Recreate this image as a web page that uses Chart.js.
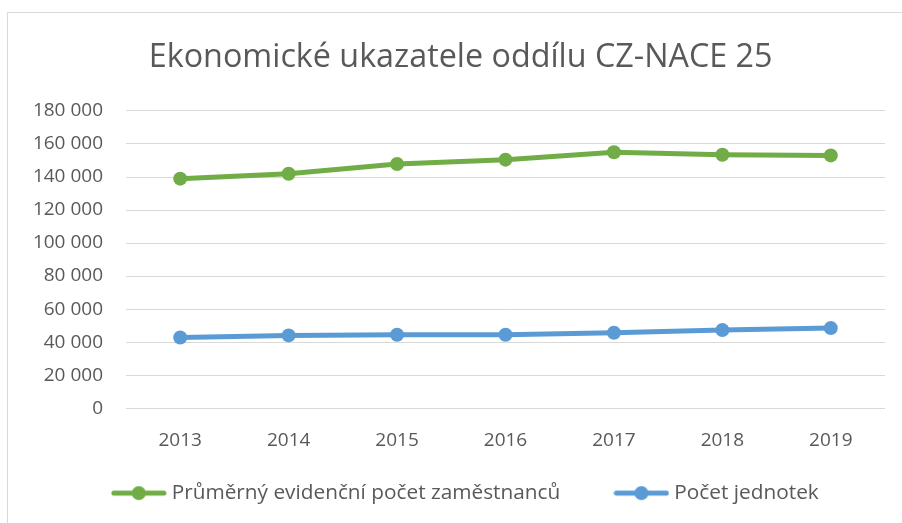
<!DOCTYPE html>
<html><head><meta charset="utf-8">
<script src="https://cdn.jsdelivr.net/npm/chart.js@4"></script>
<style>html,body{margin:0;padding:0;background:#fff;}#wrap{width:902px;height:523px;position:relative;}</style>
</head><body><div id="wrap"><canvas id="c" width="902" height="523"></canvas></div>
<script>
const years = ['2013','2014','2015','2016','2017','2018','2019'];
const employees = [139000, 142000, 147900, 150500, 155000, 153500, 153100];
const units = [42800, 44100, 44500, 44500, 45700, 47300, 48500];
const seriesNames = ['Průměrný evidenční počet zaměstnanců', 'Počet jednotek'];
const colors = ['#70ad47', '#5b9bd5'];
const titleText = 'Ekonomické ukazatele oddílu CZ-NACE 25';

function legendIcon(color){
  const cv = document.createElement('canvas');
  cv.width = 56; cv.height = 16;
  const g = cv.getContext('2d');
  g.strokeStyle = color; g.lineWidth = 5; g.lineCap = 'round';
  g.beginPath(); g.moveTo(3,8); g.lineTo(53,8); g.stroke();
  g.fillStyle = color; g.beginPath(); g.arc(28,8,7,0,Math.PI*2); g.fill();
  return cv;
}
const icons = colors.map(legendIcon);
const legendGap = ['         ', ''];

const borderPlugin = {
  id:'border',
  beforeDraw(chart){
    const c = chart.ctx;
    c.save(); c.fillStyle='#fff'; c.fillRect(0,0,chart.width,chart.height);
    c.strokeStyle='#d9d9d9'; c.lineWidth=1;
    c.beginPath(); c.moveTo(7.5,chart.height); c.lineTo(7.5,12.5); c.lineTo(chart.width,12.5); c.stroke();
    c.restore();
  }
};

new Chart(document.getElementById('c'), {
  type:'line',
  data:{labels:years, datasets:[
    {label:seriesNames[0], data:employees, borderColor:colors[0], backgroundColor:colors[0], borderWidth:5, pointRadius:7, pointHoverRadius:7, pointBorderWidth:0, pointStyle:'circle', tension:0},
    {label:seriesNames[1], data:units, borderColor:colors[1], backgroundColor:colors[1], borderWidth:5, pointRadius:7, pointHoverRadius:7, pointBorderWidth:0, pointStyle:'circle', tension:0}
  ]},
  options:{
    responsive:false, animation:false, devicePixelRatio:1,
    layout:{padding:{left:33,right:0,top:38.6,bottom:9.5}},
    plugins:{
      title:{display:true, text:titleText + ' \u2009', color:'#595959', font:{family:'Open Sans', size:32.3, weight:'normal', lineHeight:1.2}, padding:{top:0,bottom:33.6}},
      legend:{position:'bottom', labels:{color:'#595959', font:{family:'Open Sans', size:20.8}, usePointStyle:true, pointStyleWidth:45, padding:10,
        generateLabels(chart){ return chart.data.datasets.map((d,i)=>({text:d.label + legendGap[i], pointStyle:icons[i], fillStyle:colors[i], strokeStyle:colors[i], lineWidth:0, hidden:false, datasetIndex:i, fontColor:'#595959'})); }
      }},
      tooltip:{enabled:false}
    },
    scales:{
      x:{offset:true, grid:{display:false, drawTicks:false}, border:{display:false},
         ticks:{color:'#595959', font:{family:'Open Sans', size:19, lineHeight:1.2}, padding:21},
         afterFit(s){ s.height = 64.5; }},
      y:{min:0, max:180000, ticks:{stepSize:20000, color:'#595959', font:{family:'Open Sans', size:19}, padding:23,
          callback:v=>String(v).replace(/\B(?=(\d{3})+(?!\d))/g,' ')},
         grid:{color:'#d9d9d9', lineWidth:1, drawTicks:false}, border:{display:false},
         afterFit(s){ s.width = 93; }},
      yR:{position:'right', min:0, max:180000, grid:{display:false, drawTicks:false}, border:{display:false}, ticks:{display:false},
         afterFit(s){ s.width = 17; }}
    }
  },
  plugins:[borderPlugin]
});
</script></body></html>
